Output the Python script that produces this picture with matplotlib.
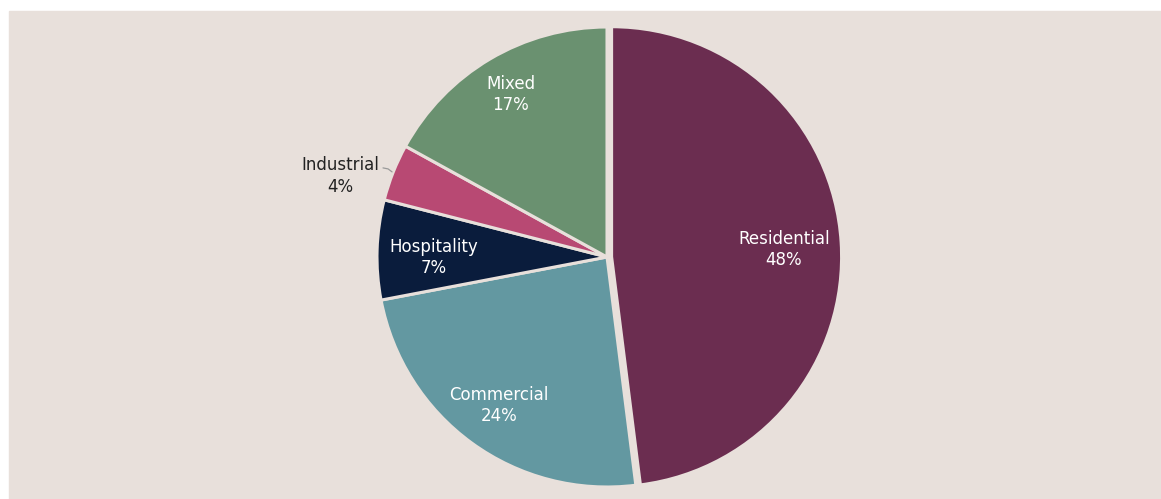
import numpy as np
import matplotlib
matplotlib.use("Agg")
import matplotlib.pyplot as plt
from matplotlib.patches import Rectangle

# Share of projects by sector
sectors = ["Residential", "Commercial", "Hospitality", "Industrial", "Mixed"]
shares = [48, 24, 7, 4, 17]
colors = ["#6B2D50", "#6398A1", "#0A1C3C", "#B84973", "#6A9170"]
pull_out = [0.02, 0, 0, 0, 0]          # fraction of the radius
label_colors = ["white", "white", "white", "#222222", "white"]
label_dist = [0.75, 0.80, 0.752, None, 0.82]
label_nudge = [-4, 0, -6, 0, 0]         # vertical tweak in pixels

BG = "#E8E0DB"
W, H = 1161, 499
fig = plt.figure(figsize=(W / 100, H / 100), dpi=100)
fig.patch.set_facecolor("white")
fig.patches.append(Rectangle((9 / W, 0), 1 - 9 / W, (H - 11) / H,
                             transform=fig.transFigure, color=BG, zorder=-1))

ax = fig.add_axes([0, 0, 1, 1])
ax.set_zorder(1)
cx, cy, R = 607, H - 257, 230
wedges, _ = ax.pie(shares, colors=colors, startangle=90, counterclock=False,
                   explode=[p * R for p in pull_out], radius=R, center=(cx, cy),
                   wedgeprops=dict(edgecolor=BG, linewidth=2.2))
ax.set_xlim(0, W)
ax.set_ylim(0, H)
ax.set_aspect("equal", adjustable="box")
ax.axis("off")

font = dict(family="DejaVu Sans", fontsize=12, ha="center", va="center",
            linespacing=1.22)
for w, name, val, col, d, nud in zip(wedges, sectors, shares, label_colors,
                                     label_dist, label_nudge):
    mid = np.deg2rad((w.theta1 + w.theta2) / 2)
    ox, oy = w.center
    if d is not None:
        x = ox + d * R * np.cos(mid)
        y = oy + d * R * np.sin(mid) + nud
        ax.text(x, y, f"{name}\n{val}%", color=col, **font)
    else:
        # small slice: label outside with a short leader line
        ex = ox + 1.005 * R * np.cos(mid)
        ey = oy + 1.005 * R * np.sin(mid)
        tx, ty = 340, H - 176
        ax.plot([ex, ex - 4, 383], [ey, ey + 3, ey + 4],
                color="#9A9A9A", lw=0.9, solid_capstyle="round")
        ax.text(tx, ty, f"{name}\n{val}%", color=col, **font)

fig.savefig("out.png", dpi=100, facecolor=fig.get_facecolor())
